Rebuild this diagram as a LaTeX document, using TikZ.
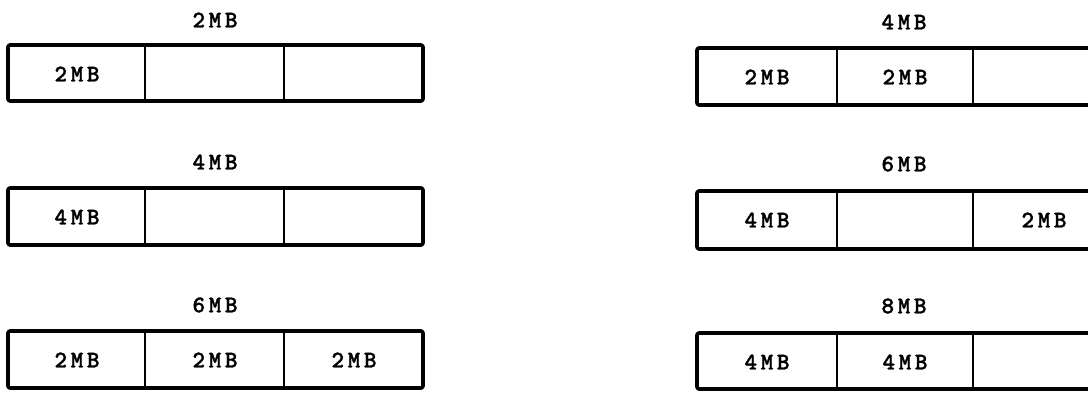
\documentclass[tikz,border=0pt]{standalone}
\usepackage{fontspec}
\newfontfamily\boxfont[Extension=.otf, LetterSpace=15, FakeBold=1.3]{lmmonolt10-bold}
\tikzset{
  lbl/.style={font=\boxfont\fontsize{24}{24}\selectfont, inner sep=0pt, anchor=center},
  frame/.style={line width=3.6pt, rounded corners=2pt, line join=round},
  divider/.style={line width=2.8pt}
}
\begin{document}
\begin{tikzpicture}[x=1pt,y=-1pt]
\useasboundingbox (0,0) rectangle (1088,393);
% ---------- left column ----------
% row 1
\node[lbl] (lt1) at (215,20) {2MB};
\draw[frame] (8,45) rectangle (423,101);
\draw[divider] (145,45) -- (145,101);
\draw[divider] (284,45) -- (284,101);
\node[lbl] (l1a) at (77,74) {2MB};
% row 2
\node[lbl] (lt2) at (215,162) {4MB};
\draw[frame] (8,188) rectangle (423,245);
\draw[divider] (145,188) -- (145,245);
\draw[divider] (284,188) -- (284,245);
\node[lbl] (l2a) at (77,217) {4MB};
% row 3
\node[lbl] (lt3) at (215,305) {6MB};
\draw[frame] (8,331) rectangle (423,388);
\draw[divider] (145,331) -- (145,388);
\draw[divider] (284,331) -- (284,388);
\node[lbl] (l3a) at (77,360) {2MB};
\node[lbl] (l3b) at (215,360) {2MB};
\node[lbl] (l3c) at (354,360) {2MB};
% ---------- right column ----------
% row 1
\node[lbl] (rt1) at (904,22) {4MB};
\draw[frame] (1090,48) -- (697,48) -- (697,105) -- (1090,105);
\draw[divider] (837,48) -- (837,105);
\draw[divider] (973,48) -- (973,105);
\node[lbl] (r1a) at (767,77) {2MB};
\node[lbl] (r1b) at (905,77) {2MB};
% row 2
\node[lbl] (rt2) at (904,164) {6MB};
\draw[frame] (1090,191) -- (697,191) -- (697,249) -- (1090,249);
\draw[divider] (837,191) -- (837,249);
\draw[divider] (973,191) -- (973,249);
\node[lbl] (r2a) at (767,220) {4MB};
\node[lbl] (r2c) at (1044,220) {2MB};
% row 3
\node[lbl] (rt3) at (904,306) {8MB};
\draw[frame] (1090,333) -- (697,333) -- (697,389) -- (1090,389);
\draw[divider] (837,333) -- (837,389);
\draw[divider] (973,333) -- (973,389);
\node[lbl] (r3a) at (767,362) {4MB};
\node[lbl] (r3b) at (905,362) {4MB};
\end{tikzpicture}
\end{document}
